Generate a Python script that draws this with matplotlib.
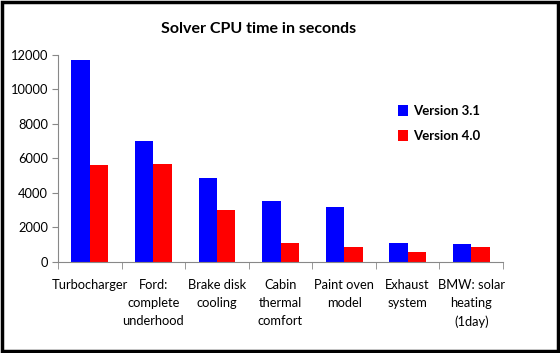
import matplotlib.pyplot as plt
import numpy as np
from matplotlib.patches import Rectangle

plt.rcParams['font.family'] = ['Lato', 'DejaVu Sans']

categories = ['Turbocharger', 'Ford:\ncomplete\nunderhood', 'Brake disk\ncooling',
              'Cabin\nthermal\ncomfort', 'Paint oven\nmodel', 'Exhaust\nsystem',
              'BMW: solar\nheating\n(1day)']
version_31 = [11700, 7000, 4870, 3550, 3200, 1100, 1040]
version_40 = [5620, 5700, 3010, 1100, 870, 580, 870]

fig = plt.figure(figsize=(5.6, 3.53), dpi=100)
ax = fig.add_axes([0.1036, 0.2578, 0.7946, 0.5864])

x = np.arange(len(categories))
w = 0.29
ax.bar(x - w / 2, version_31, width=w, color='#0000ff', label='Version 3.1')
ax.bar(x + w / 2, version_40, width=w, color='#ff0000', label='Version 4.0')

ax.set_xlim(-0.5, len(categories) - 0.5)
ax.set_ylim(0, 12000)
ax.set_yticks(np.arange(0, 12001, 2000))

# category labels centred, tick marks on the boundaries
ax.set_xticks(x)
ax.set_xticklabels(categories, fontsize=9.3, linespacing=1.6, va='top')
ax.set_xticks(np.arange(-0.5, len(categories), 1), minor=True)
ax.tick_params(axis='x', which='major', length=0, pad=12)
ax.tick_params(axis='x', which='minor', length=5, color='#888888')
ax.tick_params(axis='y', length=4, color='#888888', labelsize=9.3, pad=3)

for s in ['top', 'right']:
    ax.spines[s].set_visible(False)
for s in ['left', 'bottom']:
    ax.spines[s].set_color('#888888')

fig.text(0.461, 0.918, 'Solver CPU time in seconds', ha='center', va='center',
         fontsize=11.5, fontweight='bold')

ax.legend(loc='upper left', bbox_to_anchor=(0.738, 0.815), frameon=False,
          prop={'size': 9.5, 'weight': 'bold'}, handlelength=0.7, handleheight=0.9,
          handletextpad=0.4, labelspacing=0.95)

fig.patches.append(Rectangle((0.004, 0.006), 0.992, 0.988, transform=fig.transFigure,
                             fill=False, edgecolor='black', linewidth=2.5))

fig.savefig('out.png', dpi=100)
